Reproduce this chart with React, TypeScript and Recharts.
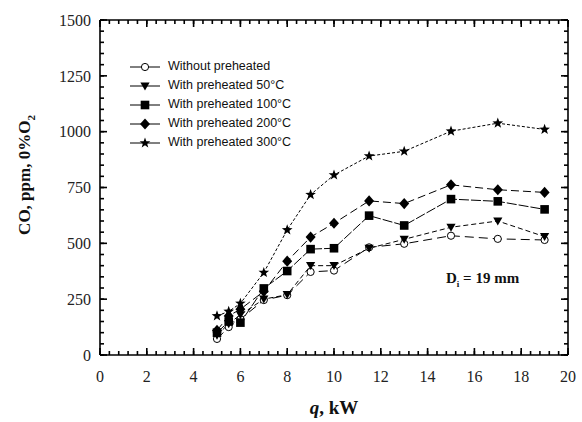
import React from 'react';
import { LineChart, Line, XAxis, YAxis, Legend } from 'recharts';

// heat input q (kW) and CO readings (ppm, 0% O2)
const qValues = [5, 5.5, 6, 7, 8, 9, 10, 11.5, 13, 15, 17, 19];
const withoutPreheated = [72, 125, 160, 246, 268, 372, 378, 482, 498, 534, 520, 515];
const preheated50 = [88, 140, 180, 250, 270, 400, 400, 478, 518, 572, 600, 530];
const preheated100 = [100, 150, 145, 298, 376, 474, 478, 624, 580, 698, 688, 652];
const preheated200 = [110, 175, 205, 285, 420, 528, 590, 690, 678, 762, 740, 728];
const preheated300 = [175, 195, 231, 369, 560, 718, 806, 891, 912, 1002, 1038, 1010];

const xMajorTicks = [0, 2, 4, 6, 8, 10, 12, 14, 16, 18, 20];
const yMajorTicks = [0, 250, 500, 750, 1000, 1250, 1500];
const xMinorTicks = Array.from({ length: 51 }, (_, i) => +(i * 0.4).toFixed(1));
const yMinorTicks = Array.from({ length: 31 }, (_, i) => i * 50);

const series = [
  { key: 'p0', name: 'Without preheated', values: withoutPreheated, marker: 'circle', dash: '9 5' },
  { key: 'p50', name: 'With preheated 50°C', values: preheated50, marker: 'triangle', dash: '5 3' },
  { key: 'p100', name: 'With preheated 100°C', values: preheated100, marker: 'square', dash: '10 2' },
  { key: 'p200', name: 'With preheated 200°C', values: preheated200, marker: 'diamond', dash: '8 4' },
  { key: 'p300', name: 'With preheated 300°C', values: preheated300, marker: 'star', dash: '3 2' },
];

const data = qValues.map((q, i) => {
  const row: any = { q };
  series.forEach((s) => (row[s.key] = s.values[i]));
  return row;
});

const serif = '"Liberation Serif", "DejaVu Serif", serif';
const sans = '"Liberation Sans", Arial, sans-serif';
const THIN = 0.001; // axes with zero size are not drawn at all

const starPath = (cx: number, cy: number, R: number, r: number) => {
  let d = '';
  for (let i = 0; i < 10; i++) {
    const rad = i % 2 === 0 ? R : r;
    const a = -Math.PI / 2 + (i * Math.PI) / 5;
    d += (i === 0 ? 'M' : 'L') + (cx + rad * Math.cos(a)).toFixed(2) + ',' + (cy + rad * Math.sin(a)).toFixed(2);
  }
  return d + 'Z';
};

const Marker = ({ type, cx, cy }: { type: string; cx: number; cy: number }) => {
  if (cx == null || cy == null) return null;
  switch (type) {
    case 'circle':
      return <circle cx={cx} cy={cy} r={3.6} fill="#fff" stroke="#000" strokeWidth={1} />;
    case 'triangle':
      return <path d={`M${cx - 4.6},${cy - 3.6}L${cx + 4.6},${cy - 3.6}L${cx},${cy + 4.4}Z`} fill="#000" />;
    case 'square':
      return <rect x={cx - 4.3} y={cy - 4.3} width={8.6} height={8.6} fill="#000" />;
    case 'diamond':
      return <path d={`M${cx},${cy - 5.6}L${cx + 5},${cy}L${cx},${cy + 5.6}L${cx - 5},${cy}Z`} fill="#000" />;
    default:
      return <path d={starPath(cx, cy, 5.6, 2.3)} fill="#000" />;
  }
};

const LegendBox = () => (
  <div style={{ fontFamily: sans, fontSize: 12.5, color: '#111', lineHeight: '19px' }}>
    {series.map((s) => (
      <div key={s.key} style={{ display: 'flex', alignItems: 'center', height: 19 }}>
        <svg width={30} height={14} style={{ marginRight: 8 }}>
          <line x1={0} y1={7} x2={30} y2={7} stroke="#000" strokeWidth={1} />
          <Marker type={s.marker} cx={15} cy={7} />
        </svg>
        <span>{s.name}</span>
      </div>
    ))}
  </div>
);

// the tick lines only take their colour from the axis stroke
const axisLine = { stroke: '#000', strokeWidth: 1.6 };
const tickLine = { stroke: '#000', strokeWidth: 1.6 };
const labelFont = { fontFamily: serif, fontSize: 16, fill: '#222' };
const blank = () => '';

export default function App() {
  return (
    <div style={{ position: 'absolute', left: 0, top: 0, width: 582, height: 422, background: '#fff' }}>
      <LineChart width={582} height={422} data={data} margin={{ top: 20, right: 14, bottom: 67, left: 100 }}>
        <XAxis xAxisId="bMinor" dataKey="q" type="number" domain={[0, 20]} ticks={xMinorTicks} allowDataOverflow height={THIN}
          tickSize={-4} stroke="#000" tickLine={tickLine} axisLine={false} tickFormatter={blank} interval={0} />
        <XAxis xAxisId="tMinor" orientation="top" dataKey="q" type="number" domain={[0, 20]} ticks={xMinorTicks} allowDataOverflow height={THIN}
          tickSize={-4} stroke="#000" tickLine={tickLine} axisLine={false} tickFormatter={blank} interval={0} />
        <YAxis yAxisId="lMinor" type="number" domain={[0, 1500]} ticks={yMinorTicks} allowDataOverflow width={THIN}
          tickSize={-4} stroke="#000" tickLine={tickLine} axisLine={false} tickFormatter={blank} interval={0} />
        <YAxis yAxisId="rMinor" orientation="right" type="number" domain={[0, 1500]} ticks={yMinorTicks} allowDataOverflow width={THIN}
          tickSize={-4} stroke="#000" tickLine={tickLine} axisLine={false} tickFormatter={blank} interval={0} />
        <XAxis
          dataKey="q"
          type="number"
          domain={[0, 20]}
          ticks={xMajorTicks}
          allowDataOverflow
          height={THIN}
          tickSize={-7}
          tickMargin={23}
          stroke="#000"
          tickLine={tickLine}
          axisLine={axisLine}
          tick={labelFont}
          interval={0}
        />
        <XAxis xAxisId="top" orientation="top" dataKey="q" type="number" domain={[0, 20]} ticks={xMajorTicks} allowDataOverflow height={THIN}
          tickSize={-7} stroke="#000" tickLine={tickLine} axisLine={axisLine} tickFormatter={blank} interval={0} />
        <YAxis
          type="number"
          domain={[0, 1500]}
          ticks={yMajorTicks}
          allowDataOverflow
          width={THIN}
          tickSize={-7}
          tickMargin={16}
          stroke="#000"
          tickLine={tickLine}
          axisLine={axisLine}
          tick={labelFont}
          interval={0}
        />
        <YAxis yAxisId="right" orientation="right" type="number" domain={[0, 1500]} ticks={yMajorTicks} allowDataOverflow width={THIN}
          tickSize={-7} stroke="#000" tickLine={tickLine} axisLine={axisLine} tickFormatter={blank} interval={0} />
        <Legend
          layout="vertical"
          align="center"
          verticalAlign="middle"
          content={() => <LegendBox />}
          wrapperStyle={{ left: 130, top: 57, width: 220 }}
        />
        {series.map((s) => (
          <Line
            key={s.key}
            dataKey={s.key}
            name={s.name}
            stroke="#000"
            strokeWidth={1}
            strokeDasharray={s.dash}
            isAnimationActive={false}
            dot={(p: any) => <Marker key={`${s.key}-${p.index}`} type={s.marker} cx={p.cx} cy={p.cy} />}
            activeDot={false}
          />
        ))}
      </LineChart>
      <div style={{ position: 'absolute', left: 446, top: 270, fontFamily: serif, fontWeight: 'bold', fontSize: 15, color: '#111' }}>
        D<sub style={{ fontSize: 9 }}>i</sub> = 19 mm
      </div>
      <div style={{ position: 'absolute', left: 234, width: 200, top: 397, textAlign: 'center', fontFamily: serif, fontWeight: 'bold', fontSize: 19, color: '#111' }}>
        <i>q</i>, kW
      </div>
      <div
        style={{
          position: 'absolute',
          left: 26,
          top: 175,
          transform: 'translate(-50%, -50%) rotate(-90deg)',
          whiteSpace: 'nowrap',
          fontFamily: serif,
          fontWeight: 'bold',
          fontSize: 17,
          color: '#111',
        }}
      >
        CO, ppm, 0%O<sub style={{ fontSize: 11 }}>2</sub>
      </div>
    </div>
  );
}
